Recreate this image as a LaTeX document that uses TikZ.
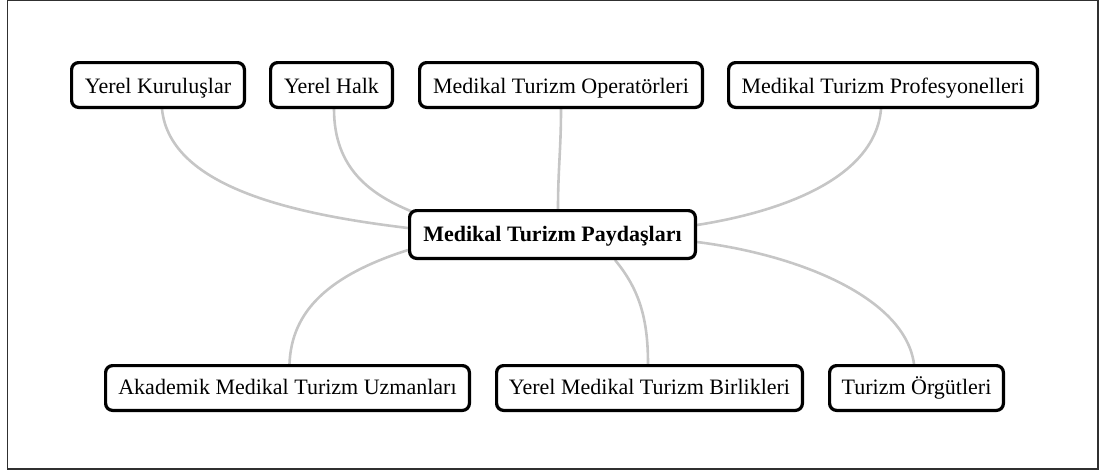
\documentclass[tikz,border=0pt]{standalone}
\usepackage{fontspec}
\setmainfont{Liberation Serif}
\usetikzlibrary{backgrounds,shadows}

\definecolor{linkgray}{HTML}{C6C6C6}
\definecolor{framegray}{HTML}{303030}

\tikzset{
  stakebox/.style={draw=black, line width=3.2pt, rounded corners=7pt, fill=white,
    align=center, inner sep=0pt, minimum height=44.8pt,
    text height=18pt, text depth=1pt,
    font=\fontsize{22}{26}\selectfont,
    drop shadow={opacity=0.22, shadow xshift=1pt, shadow yshift=-1pt}},
  lowbox/.style={stakebox, text height=13pt, text depth=1pt},
  hubbox/.style={stakebox, minimum height=47.8pt, text height=16pt, text depth=2pt,
    font=\fontsize{22}{26}\selectfont\bfseries},
  link/.style={draw=linkgray, line width=2.6pt}
}

\begin{document}
\begin{tikzpicture}[x=1pt, y=-1pt]
  \useasboundingbox (0,0) rectangle (1101,471);
  \draw[framegray, line width=1.4pt] (7.5,0.7) rectangle (1098,469);

  % central node
  \node[hubbox, minimum width=285.8pt] (hub) at (552.5,234.5) {Medikal Turizm Paydaşları};

  % upper row
  \node[stakebox, minimum width=172.8pt] (kur)  at (158,85)   {Yerel Kuruluşlar};
  \node[stakebox, minimum width=121.8pt] (halk) at (331.5,85) {Yerel Halk};
  \node[stakebox, minimum width=282.8pt] (ope)  at (561,85)   {Medikal Turizm Operatörleri};
  \node[stakebox, minimum width=308.8pt] (pro)  at (883,85)   {Medikal Turizm Profesyonelleri};

  % lower row
  \node[lowbox, minimum width=363.8pt] (aka) at (287.5,388) {Akademik Medikal Turizm Uzmanları};
  \node[lowbox, minimum width=305.8pt] (bir) at (649.5,388) {Yerel Medikal Turizm Birlikleri};
  \node[lowbox, minimum width=173.8pt] (org) at (916.5,388) {Turizm Örgütleri};

  % curved links, behind the boxes
  \begin{scope}[on background layer]
    \draw[link] ([xshift=4pt]kur.south) .. controls +(8,80) and +(-108,-13) .. ([yshift=6.5pt]hub.west);
    \draw[link] ([xshift=2.5pt]halk.south) .. controls +(0,60) and +(-42,-17) .. ([xshift=5pt,yshift=-3pt]hub.north west);
    \draw[link] (ope.south) .. controls +(0,40) and +(0,-40) .. ([xshift=5.5pt]hub.north);
    \draw[link] ([xshift=-2pt]pro.south) .. controls +(-6,70) and +(83,-13) .. ([yshift=9.5pt]hub.east);
    \draw[link] ([yshift=-15.5pt]hub.west) .. controls +(-78,25) and +(2,-54) .. ([xshift=2pt]aka.north);
    \draw[link] ([xshift=62.5pt]hub.south) .. controls +(25,30) and +(0,-44) .. ([xshift=-1.5pt]bir.north);
    \draw[link] ([yshift=-7.5pt]hub.east) .. controls +(103,13) and +(-9,-66) .. ([xshift=-2.5pt]org.north);
  \end{scope}
\end{tikzpicture}
\end{document}
